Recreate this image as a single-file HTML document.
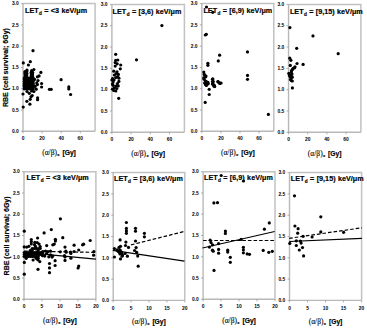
<!DOCTYPE html>
<html><head><meta charset="utf-8"><style>
html,body{margin:0;padding:0;background:#fff;}
svg{display:block;}
text{font-family:"Liberation Sans",sans-serif;font-weight:bold;fill:#000;stroke:#000;stroke-width:0.18px;}
.tk{font-size:4.9px;stroke-width:0;}
.ti{font-size:7.2px;word-spacing:0.3px;letter-spacing:0.03px;}
.tsub{font-size:4.7px;}
.xt{font-size:7px;}
.xs{font-family:"Liberation Serif",serif;font-weight:normal;font-size:7.8px;stroke:#000;stroke-width:0.1px;}
.xsub{font-size:4.0px;}
.yt{font-size:7px;}
circle{fill:#000;}
</style></head><body>
<svg width="367" height="328" viewBox="0 0 367 328">
<rect width="367" height="328" fill="#fff"/>
<path d="M23 3.6H95.1V131.3" stroke="#c2c2c2" stroke-width="1.5" fill="none"/>
<path d="M23 3.6V131.3H95.1" stroke="#b8b8b8" stroke-width="1.4" fill="none"/>
<path d="M21 131.3H23" stroke="#999" stroke-width="0.8"/>
<text x="18.7" y="133.05" class="tk" text-anchor="end">0.0</text>
<path d="M21 110.02H23" stroke="#999" stroke-width="0.8"/>
<text x="18.7" y="111.77" class="tk" text-anchor="end">0.5</text>
<path d="M21 88.73H23" stroke="#999" stroke-width="0.8"/>
<text x="18.7" y="90.48" class="tk" text-anchor="end">1.0</text>
<path d="M21 67.45H23" stroke="#999" stroke-width="0.8"/>
<text x="18.7" y="69.2" class="tk" text-anchor="end">1.5</text>
<path d="M21 46.17H23" stroke="#999" stroke-width="0.8"/>
<text x="18.7" y="47.92" class="tk" text-anchor="end">2.0</text>
<path d="M21 24.88H23" stroke="#999" stroke-width="0.8"/>
<text x="18.7" y="26.63" class="tk" text-anchor="end">2.5</text>
<path d="M21 3.6H23" stroke="#999" stroke-width="0.8"/>
<text x="18.7" y="5.35" class="tk" text-anchor="end">3.0</text>
<path d="M23 131.3V133.3" stroke="#999" stroke-width="0.8"/>
<text x="23" y="140.4" class="tk" text-anchor="middle">0</text>
<path d="M42.1 131.3V133.3" stroke="#999" stroke-width="0.8"/>
<text x="42.1" y="140.4" class="tk" text-anchor="middle">20</text>
<path d="M61.2 131.3V133.3" stroke="#999" stroke-width="0.8"/>
<text x="61.2" y="140.4" class="tk" text-anchor="middle">40</text>
<path d="M80.3 131.3V133.3" stroke="#999" stroke-width="0.8"/>
<text x="80.3" y="140.4" class="tk" text-anchor="middle">60</text>
<text x="42.15" y="154.8" class="xs" textLength="14.8" lengthAdjust="spacingAndGlyphs">(α/β)</text>
<text x="57.35" y="156.2" class="xsub">x</text>
<text x="62.45" y="154.8" class="xt" textLength="13.4" lengthAdjust="spacingAndGlyphs">[Gy]</text>
<text x="25" y="13.1" class="ti">LET<tspan class="tsub" dx="0.4" dy="2.0">d</tspan><tspan dy="-2.0"> = <3 keV/μm</tspan></text>
<circle cx="33" cy="50.7" r="1.6"/>
<circle cx="30.3" cy="61.7" r="1.6"/>
<circle cx="23.3" cy="62.9" r="1.6"/>
<circle cx="28.4" cy="65" r="1.6"/>
<circle cx="27" cy="70.1" r="1.6"/>
<circle cx="25.2" cy="72.4" r="1.6"/>
<circle cx="31.6" cy="70.7" r="1.6"/>
<circle cx="33.9" cy="69.5" r="1.6"/>
<circle cx="40.9" cy="72.4" r="1.6"/>
<circle cx="37.4" cy="76.8" r="1.6"/>
<circle cx="39.1" cy="75.9" r="1.6"/>
<circle cx="34.5" cy="79.4" r="1.6"/>
<circle cx="38" cy="80.5" r="1.6"/>
<circle cx="36.8" cy="82.9" r="1.6"/>
<circle cx="37.4" cy="84.6" r="1.6"/>
<circle cx="35.1" cy="86.3" r="1.6"/>
<circle cx="41.6" cy="83.5" r="1.6"/>
<circle cx="41.6" cy="87" r="1.6"/>
<circle cx="36.2" cy="89.2" r="1.6"/>
<circle cx="61.1" cy="79.7" r="1.6"/>
<circle cx="49.4" cy="89.3" r="1.6"/>
<circle cx="51.2" cy="89.3" r="1.6"/>
<circle cx="68.8" cy="86.9" r="1.6"/>
<circle cx="68.8" cy="89" r="1.6"/>
<circle cx="70.6" cy="94.5" r="1.6"/>
<circle cx="37.6" cy="97.8" r="1.6"/>
<circle cx="37.6" cy="99.7" r="1.6"/>
<circle cx="31" cy="96.8" r="1.6"/>
<circle cx="30.2" cy="99.3" r="1.6"/>
<circle cx="26.9" cy="101.3" r="1.6"/>
<circle cx="29.9" cy="104.2" r="1.6"/>
<circle cx="23.2" cy="107.1" r="1.6"/>
<circle cx="23" cy="94" r="1.6"/>
<circle cx="27" cy="91.5" r="1.6"/>
<circle cx="29.3" cy="93.3" r="1.6"/>
<circle cx="31.6" cy="91" r="1.6"/>
<circle cx="33.9" cy="91.5" r="1.6"/>
<circle cx="32.2" cy="95.6" r="1.6"/>
<circle cx="24.2" cy="78" r="1.6"/>
<circle cx="24.2" cy="79.8" r="1.6"/>
<circle cx="24.2" cy="81.6" r="1.6"/>
<circle cx="24.2" cy="83.4" r="1.6"/>
<circle cx="24.2" cy="85.2" r="1.6"/>
<circle cx="24.2" cy="87" r="1.6"/>
<circle cx="24.2" cy="88.8" r="1.6"/>
<circle cx="26" cy="78" r="1.6"/>
<circle cx="26" cy="79.8" r="1.6"/>
<circle cx="26" cy="81.6" r="1.6"/>
<circle cx="26" cy="83.4" r="1.6"/>
<circle cx="26" cy="85.2" r="1.6"/>
<circle cx="26" cy="87" r="1.6"/>
<circle cx="26" cy="88.8" r="1.6"/>
<circle cx="27.8" cy="78" r="1.6"/>
<circle cx="27.8" cy="79.8" r="1.6"/>
<circle cx="27.8" cy="81.6" r="1.6"/>
<circle cx="27.8" cy="83.4" r="1.6"/>
<circle cx="27.8" cy="85.2" r="1.6"/>
<circle cx="27.8" cy="87" r="1.6"/>
<circle cx="27.8" cy="88.8" r="1.6"/>
<circle cx="29.6" cy="78" r="1.6"/>
<circle cx="29.6" cy="79.8" r="1.6"/>
<circle cx="29.6" cy="81.6" r="1.6"/>
<circle cx="29.6" cy="83.4" r="1.6"/>
<circle cx="29.6" cy="85.2" r="1.6"/>
<circle cx="29.6" cy="87" r="1.6"/>
<circle cx="29.6" cy="88.8" r="1.6"/>
<circle cx="31.4" cy="78" r="1.6"/>
<circle cx="31.4" cy="79.8" r="1.6"/>
<circle cx="31.4" cy="81.6" r="1.6"/>
<circle cx="31.4" cy="83.4" r="1.6"/>
<circle cx="31.4" cy="85.2" r="1.6"/>
<circle cx="31.4" cy="87" r="1.6"/>
<circle cx="31.4" cy="88.8" r="1.6"/>
<circle cx="33.2" cy="78" r="1.6"/>
<circle cx="33.2" cy="79.8" r="1.6"/>
<circle cx="33.2" cy="81.6" r="1.6"/>
<circle cx="33.2" cy="83.4" r="1.6"/>
<circle cx="33.2" cy="85.2" r="1.6"/>
<circle cx="33.2" cy="87" r="1.6"/>
<circle cx="33.2" cy="88.8" r="1.6"/>
<circle cx="25" cy="71.5" r="1.6"/>
<circle cx="25" cy="73.3" r="1.6"/>
<circle cx="25" cy="75.1" r="1.6"/>
<circle cx="25" cy="76.9" r="1.6"/>
<circle cx="26.8" cy="71.5" r="1.6"/>
<circle cx="26.8" cy="73.3" r="1.6"/>
<circle cx="26.8" cy="75.1" r="1.6"/>
<circle cx="26.8" cy="76.9" r="1.6"/>
<circle cx="31.2" cy="72.3" r="1.6"/>
<circle cx="31.2" cy="74.1" r="1.6"/>
<circle cx="31.2" cy="75.9" r="1.6"/>
<circle cx="32.6" cy="72.3" r="1.6"/>
<circle cx="32.6" cy="74.1" r="1.6"/>
<circle cx="32.6" cy="75.9" r="1.6"/>
<path d="M111.9 4.4H184.4V132.3" stroke="#c2c2c2" stroke-width="1.5" fill="none"/>
<path d="M111.9 4.4V132.3H184.4" stroke="#b8b8b8" stroke-width="1.4" fill="none"/>
<path d="M109.9 132.3H111.9" stroke="#999" stroke-width="0.8"/>
<text x="107.6" y="134.05" class="tk" text-anchor="end">0.0</text>
<path d="M109.9 110.98H111.9" stroke="#999" stroke-width="0.8"/>
<text x="107.6" y="112.73" class="tk" text-anchor="end">0.5</text>
<path d="M109.9 89.67H111.9" stroke="#999" stroke-width="0.8"/>
<text x="107.6" y="91.42" class="tk" text-anchor="end">1.0</text>
<path d="M109.9 68.35H111.9" stroke="#999" stroke-width="0.8"/>
<text x="107.6" y="70.1" class="tk" text-anchor="end">1.5</text>
<path d="M109.9 47.03H111.9" stroke="#999" stroke-width="0.8"/>
<text x="107.6" y="48.78" class="tk" text-anchor="end">2.0</text>
<path d="M109.9 25.72H111.9" stroke="#999" stroke-width="0.8"/>
<text x="107.6" y="27.47" class="tk" text-anchor="end">2.5</text>
<path d="M109.9 4.4H111.9" stroke="#999" stroke-width="0.8"/>
<text x="107.6" y="6.15" class="tk" text-anchor="end">3.0</text>
<path d="M111.9 132.3V134.3" stroke="#999" stroke-width="0.8"/>
<text x="111.9" y="141.4" class="tk" text-anchor="middle">0</text>
<path d="M131.11 132.3V134.3" stroke="#999" stroke-width="0.8"/>
<text x="131.11" y="141.4" class="tk" text-anchor="middle">20</text>
<path d="M150.31 132.3V134.3" stroke="#999" stroke-width="0.8"/>
<text x="150.31" y="141.4" class="tk" text-anchor="middle">40</text>
<path d="M169.52 132.3V134.3" stroke="#999" stroke-width="0.8"/>
<text x="169.52" y="141.4" class="tk" text-anchor="middle">60</text>
<text x="131.25" y="155.8" class="xs" textLength="14.8" lengthAdjust="spacingAndGlyphs">(α/β)</text>
<text x="146.45" y="157.2" class="xsub">x</text>
<text x="151.55" y="155.8" class="xt" textLength="13.4" lengthAdjust="spacingAndGlyphs">[Gy]</text>
<text x="112.6" y="13.6" class="ti">LET<tspan class="tsub" dx="0.4" dy="2.0">d</tspan><tspan dy="-2.0"> = [3,6) keV/μm</tspan></text>
<circle cx="161.9" cy="25.6" r="1.6"/>
<circle cx="136.5" cy="59.8" r="1.6"/>
<circle cx="115.7" cy="54.3" r="1.6"/>
<circle cx="115.7" cy="60.3" r="1.6"/>
<circle cx="117.8" cy="60" r="1.6"/>
<circle cx="115.2" cy="62.6" r="1.6"/>
<circle cx="117.2" cy="63.8" r="1.6"/>
<circle cx="115.2" cy="66.1" r="1.6"/>
<circle cx="120.7" cy="65" r="1.6"/>
<circle cx="120.3" cy="68.8" r="1.6"/>
<circle cx="113.8" cy="71.2" r="1.6"/>
<circle cx="117" cy="71.8" r="1.6"/>
<circle cx="118.4" cy="74.4" r="1.6"/>
<circle cx="114.4" cy="75" r="1.6"/>
<circle cx="116.3" cy="73.5" r="1.6"/>
<circle cx="115.7" cy="77.6" r="1.6"/>
<circle cx="112.6" cy="78.5" r="1.6"/>
<circle cx="111.9" cy="80" r="1.6"/>
<circle cx="118.9" cy="78.2" r="1.6"/>
<circle cx="118.9" cy="81.4" r="1.6"/>
<circle cx="113.1" cy="82.1" r="1.6"/>
<circle cx="117.4" cy="83.6" r="1.6"/>
<circle cx="113.1" cy="85.3" r="1.6"/>
<circle cx="118.2" cy="85.9" r="1.6"/>
<circle cx="114.4" cy="87.9" r="1.6"/>
<circle cx="112.5" cy="89.1" r="1.6"/>
<circle cx="116.8" cy="88.5" r="1.6"/>
<circle cx="113.8" cy="90.5" r="1.6"/>
<circle cx="115.8" cy="91" r="1.6"/>
<circle cx="114" cy="80" r="1.6"/>
<circle cx="117.5" cy="76.5" r="1.6"/>
<circle cx="112.4" cy="84" r="1.6"/>
<circle cx="116" cy="86" r="1.6"/>
<circle cx="118.7" cy="98.3" r="1.6"/>
<path d="M201.85 3.6H273.8V131.3" stroke="#c2c2c2" stroke-width="1.5" fill="none"/>
<path d="M201.85 3.6V131.3H273.8" stroke="#b8b8b8" stroke-width="1.4" fill="none"/>
<path d="M199.85 131.3H201.85" stroke="#999" stroke-width="0.8"/>
<text x="197.55" y="133.05" class="tk" text-anchor="end">0.0</text>
<path d="M199.85 110.02H201.85" stroke="#999" stroke-width="0.8"/>
<text x="197.55" y="111.77" class="tk" text-anchor="end">0.5</text>
<path d="M199.85 88.73H201.85" stroke="#999" stroke-width="0.8"/>
<text x="197.55" y="90.48" class="tk" text-anchor="end">1.0</text>
<path d="M199.85 67.45H201.85" stroke="#999" stroke-width="0.8"/>
<text x="197.55" y="69.2" class="tk" text-anchor="end">1.5</text>
<path d="M199.85 46.17H201.85" stroke="#999" stroke-width="0.8"/>
<text x="197.55" y="47.92" class="tk" text-anchor="end">2.0</text>
<path d="M199.85 24.88H201.85" stroke="#999" stroke-width="0.8"/>
<text x="197.55" y="26.63" class="tk" text-anchor="end">2.5</text>
<path d="M199.85 3.6H201.85" stroke="#999" stroke-width="0.8"/>
<text x="197.55" y="5.35" class="tk" text-anchor="end">3.0</text>
<path d="M201.85 131.3V133.3" stroke="#999" stroke-width="0.8"/>
<text x="201.85" y="140.4" class="tk" text-anchor="middle">0</text>
<path d="M220.91 131.3V133.3" stroke="#999" stroke-width="0.8"/>
<text x="220.91" y="140.4" class="tk" text-anchor="middle">20</text>
<path d="M239.97 131.3V133.3" stroke="#999" stroke-width="0.8"/>
<text x="239.97" y="140.4" class="tk" text-anchor="middle">40</text>
<path d="M259.03 131.3V133.3" stroke="#999" stroke-width="0.8"/>
<text x="259.03" y="140.4" class="tk" text-anchor="middle">60</text>
<text x="220.92" y="154.8" class="xs" textLength="14.8" lengthAdjust="spacingAndGlyphs">(α/β)</text>
<text x="236.12" y="156.2" class="xsub">x</text>
<text x="241.22" y="154.8" class="xt" textLength="13.4" lengthAdjust="spacingAndGlyphs">[Gy]</text>
<text x="203.4" y="13.1" class="ti">LET<tspan class="tsub" dx="0.4" dy="2.0">d</tspan><tspan dy="-2.0"> = [6,9) keV/μm</tspan></text>
<circle cx="206.5" cy="7" r="1.6"/>
<circle cx="212.8" cy="12.3" r="1.6"/>
<circle cx="205.3" cy="35" r="1.6"/>
<circle cx="206.3" cy="34.3" r="1.6"/>
<circle cx="219.6" cy="55.2" r="1.6"/>
<circle cx="218.3" cy="60.9" r="1.6"/>
<circle cx="207.9" cy="63.3" r="1.6"/>
<circle cx="207.9" cy="65.3" r="1.6"/>
<circle cx="247.5" cy="51.9" r="1.6"/>
<circle cx="203.8" cy="72.1" r="1.6"/>
<circle cx="204.9" cy="75.5" r="1.6"/>
<circle cx="205.6" cy="77" r="1.6"/>
<circle cx="204.1" cy="79.3" r="1.6"/>
<circle cx="206.4" cy="81.6" r="1.6"/>
<circle cx="207.9" cy="82.3" r="1.6"/>
<circle cx="205.6" cy="84.6" r="1.6"/>
<circle cx="206.4" cy="85.4" r="1.6"/>
<circle cx="212.5" cy="79.3" r="1.6"/>
<circle cx="212.5" cy="81.6" r="1.6"/>
<circle cx="213.2" cy="84.6" r="1.6"/>
<circle cx="214" cy="86.2" r="1.6"/>
<circle cx="218.1" cy="81.9" r="1.6"/>
<circle cx="220.1" cy="83.1" r="1.6"/>
<circle cx="209.2" cy="89.3" r="1.6"/>
<circle cx="209.2" cy="94.5" r="1.6"/>
<circle cx="205.2" cy="102.4" r="1.6"/>
<circle cx="268.4" cy="114.4" r="1.6"/>
<circle cx="247.5" cy="75.4" r="1.6"/>
<circle cx="247.5" cy="79.3" r="1.6"/>
<circle cx="204.2" cy="74.2" r="1.6"/>
<circle cx="206" cy="76.1" r="1.6"/>
<circle cx="203.7" cy="77.9" r="1.6"/>
<circle cx="205.5" cy="81.1" r="1.6"/>
<circle cx="207.3" cy="82.5" r="1.6"/>
<circle cx="204.6" cy="83" r="1.6"/>
<circle cx="206" cy="84.8" r="1.6"/>
<circle cx="208.2" cy="83.8" r="1.6"/>
<circle cx="212.8" cy="78.8" r="1.6"/>
<circle cx="213.3" cy="81.6" r="1.6"/>
<circle cx="212.4" cy="83.9" r="1.6"/>
<circle cx="214.2" cy="85.2" r="1.6"/>
<circle cx="214.7" cy="86.6" r="1.6"/>
<circle cx="217.9" cy="81.6" r="1.6"/>
<circle cx="219.7" cy="83.4" r="1.6"/>
<circle cx="221.1" cy="83" r="1.6"/>
<path d="M288.55 4.4H360.9V132.3" stroke="#c2c2c2" stroke-width="1.5" fill="none"/>
<path d="M288.55 4.4V132.3H360.9" stroke="#b8b8b8" stroke-width="1.4" fill="none"/>
<path d="M286.55 132.3H288.55" stroke="#999" stroke-width="0.8"/>
<text x="284.25" y="134.05" class="tk" text-anchor="end">0.0</text>
<path d="M286.55 110.98H288.55" stroke="#999" stroke-width="0.8"/>
<text x="284.25" y="112.73" class="tk" text-anchor="end">0.5</text>
<path d="M286.55 89.67H288.55" stroke="#999" stroke-width="0.8"/>
<text x="284.25" y="91.42" class="tk" text-anchor="end">1.0</text>
<path d="M286.55 68.35H288.55" stroke="#999" stroke-width="0.8"/>
<text x="284.25" y="70.1" class="tk" text-anchor="end">1.5</text>
<path d="M286.55 47.03H288.55" stroke="#999" stroke-width="0.8"/>
<text x="284.25" y="48.78" class="tk" text-anchor="end">2.0</text>
<path d="M286.55 25.72H288.55" stroke="#999" stroke-width="0.8"/>
<text x="284.25" y="27.47" class="tk" text-anchor="end">2.5</text>
<path d="M286.55 4.4H288.55" stroke="#999" stroke-width="0.8"/>
<text x="284.25" y="6.15" class="tk" text-anchor="end">3.0</text>
<path d="M288.55 132.3V134.3" stroke="#999" stroke-width="0.8"/>
<text x="288.55" y="141.4" class="tk" text-anchor="middle">0</text>
<path d="M307.72 132.3V134.3" stroke="#999" stroke-width="0.8"/>
<text x="307.72" y="141.4" class="tk" text-anchor="middle">20</text>
<path d="M326.88 132.3V134.3" stroke="#999" stroke-width="0.8"/>
<text x="326.88" y="141.4" class="tk" text-anchor="middle">40</text>
<path d="M346.05 132.3V134.3" stroke="#999" stroke-width="0.8"/>
<text x="346.05" y="141.4" class="tk" text-anchor="middle">60</text>
<text x="307.83" y="155.8" class="xs" textLength="14.8" lengthAdjust="spacingAndGlyphs">(α/β)</text>
<text x="323.03" y="157.2" class="xsub">x</text>
<text x="328.12" y="155.8" class="xt" textLength="13.4" lengthAdjust="spacingAndGlyphs">[Gy]</text>
<text x="289.9" y="13.6" class="ti">LET<tspan class="tsub" dx="0.4" dy="2.0">d</tspan><tspan dy="-2.0"> = [9,15) keV/μm</tspan></text>
<circle cx="289.9" cy="27.6" r="1.6"/>
<circle cx="313" cy="35.9" r="1.6"/>
<circle cx="296.7" cy="48.3" r="1.6"/>
<circle cx="338.2" cy="53.7" r="1.6"/>
<circle cx="289.8" cy="58.2" r="1.6"/>
<circle cx="290.9" cy="60.3" r="1.6"/>
<circle cx="297" cy="63.5" r="1.6"/>
<circle cx="303.1" cy="64.4" r="1.6"/>
<circle cx="290.3" cy="65.4" r="1.6"/>
<circle cx="294.6" cy="67.8" r="1.6"/>
<circle cx="292.5" cy="69.4" r="1.6"/>
<circle cx="291.4" cy="72.1" r="1.6"/>
<circle cx="289.3" cy="74.7" r="1.6"/>
<circle cx="290.9" cy="75.3" r="1.6"/>
<circle cx="290.9" cy="77.9" r="1.6"/>
<circle cx="291.4" cy="80.6" r="1.6"/>
<circle cx="292.4" cy="87.9" r="1.6"/>
<circle cx="293.2" cy="68.3" r="1.6"/>
<circle cx="295" cy="66.8" r="1.6"/>
<circle cx="291.5" cy="70.5" r="1.6"/>
<circle cx="288.9" cy="73.3" r="1.6"/>
<circle cx="292" cy="74" r="1.6"/>
<circle cx="289.8" cy="76.3" r="1.6"/>
<circle cx="292.3" cy="77.2" r="1.6"/>
<circle cx="290.5" cy="79.6" r="1.6"/>
<circle cx="292.3" cy="81" r="1.6"/>
<path d="M24 171.7H95.9V299.3" stroke="#c2c2c2" stroke-width="1.5" fill="none"/>
<path d="M24 171.7V299.3H95.9" stroke="#b8b8b8" stroke-width="1.4" fill="none"/>
<path d="M22 299.3H24" stroke="#999" stroke-width="0.8"/>
<text x="19.7" y="301.05" class="tk" text-anchor="end">0.0</text>
<path d="M22 278.03H24" stroke="#999" stroke-width="0.8"/>
<text x="19.7" y="279.78" class="tk" text-anchor="end">0.5</text>
<path d="M22 256.77H24" stroke="#999" stroke-width="0.8"/>
<text x="19.7" y="258.52" class="tk" text-anchor="end">1.0</text>
<path d="M22 235.5H24" stroke="#999" stroke-width="0.8"/>
<text x="19.7" y="237.25" class="tk" text-anchor="end">1.5</text>
<path d="M22 214.23H24" stroke="#999" stroke-width="0.8"/>
<text x="19.7" y="215.98" class="tk" text-anchor="end">2.0</text>
<path d="M22 192.97H24" stroke="#999" stroke-width="0.8"/>
<text x="19.7" y="194.72" class="tk" text-anchor="end">2.5</text>
<path d="M22 171.7H24" stroke="#999" stroke-width="0.8"/>
<text x="19.7" y="173.45" class="tk" text-anchor="end">3.0</text>
<path d="M24 299.3V301.3" stroke="#999" stroke-width="0.8"/>
<text x="24" y="308.4" class="tk" text-anchor="middle">0</text>
<path d="M41.98 299.3V301.3" stroke="#999" stroke-width="0.8"/>
<text x="41.98" y="308.4" class="tk" text-anchor="middle">5</text>
<path d="M59.95 299.3V301.3" stroke="#999" stroke-width="0.8"/>
<text x="59.95" y="308.4" class="tk" text-anchor="middle">10</text>
<path d="M77.93 299.3V301.3" stroke="#999" stroke-width="0.8"/>
<text x="77.93" y="308.4" class="tk" text-anchor="middle">15</text>
<path d="M95.9 299.3V301.3" stroke="#999" stroke-width="0.8"/>
<text x="95.9" y="308.4" class="tk" text-anchor="middle">20</text>
<text x="43.05" y="322.8" class="xs" textLength="14.8" lengthAdjust="spacingAndGlyphs">(α/β)</text>
<text x="58.25" y="324.2" class="xsub">x</text>
<text x="63.35" y="322.8" class="xt" textLength="13.4" lengthAdjust="spacingAndGlyphs">[Gy]</text>
<text x="26.6" y="180.3" class="ti">LET<tspan class="tsub" dx="0.4" dy="2.0">d</tspan><tspan dy="-2.0"> = <3 keV/μm</tspan></text>
<line x1="24" y1="251" x2="95.9" y2="252.4" stroke="#000" stroke-width="1.2" stroke-dasharray="3.6 2"/>
<line x1="24" y1="252.3" x2="95.9" y2="259.2" stroke="#000" stroke-width="1.2"/>
<circle cx="60.4" cy="218.8" r="1.6"/>
<circle cx="51.3" cy="229.6" r="1.6"/>
<circle cx="44.1" cy="232.9" r="1.6"/>
<circle cx="24.3" cy="231.2" r="1.6"/>
<circle cx="37.6" cy="238" r="1.6"/>
<circle cx="31.3" cy="239.6" r="1.6"/>
<circle cx="31.3" cy="241.8" r="1.6"/>
<circle cx="31.3" cy="244" r="1.6"/>
<circle cx="34.8" cy="242.4" r="1.6"/>
<circle cx="37.2" cy="242.6" r="1.6"/>
<circle cx="39.1" cy="244.1" r="1.6"/>
<circle cx="40.2" cy="246.5" r="1.6"/>
<circle cx="24.2" cy="246.9" r="1.6"/>
<circle cx="26.7" cy="247.1" r="1.6"/>
<circle cx="28.8" cy="246.3" r="1.6"/>
<circle cx="34.5" cy="244.8" r="1.6"/>
<circle cx="35.5" cy="246.4" r="1.6"/>
<circle cx="46.7" cy="245.6" r="1.6"/>
<circle cx="52.8" cy="244.8" r="1.6"/>
<circle cx="54.3" cy="244.1" r="1.6"/>
<circle cx="55.4" cy="239.3" r="1.6"/>
<circle cx="55.4" cy="241.1" r="1.6"/>
<circle cx="62.8" cy="237.7" r="1.6"/>
<circle cx="65" cy="247.1" r="1.6"/>
<circle cx="90.2" cy="240.5" r="1.6"/>
<circle cx="74.1" cy="245.2" r="1.6"/>
<circle cx="82.6" cy="244.8" r="1.6"/>
<circle cx="83.6" cy="244.2" r="1.6"/>
<circle cx="43" cy="251.5" r="1.6"/>
<circle cx="45.5" cy="251" r="1.6"/>
<circle cx="48" cy="251.5" r="1.6"/>
<circle cx="50.5" cy="251.2" r="1.6"/>
<circle cx="46.7" cy="253.4" r="1.6"/>
<circle cx="50.5" cy="254.8" r="1.6"/>
<circle cx="52" cy="257.1" r="1.6"/>
<circle cx="44.7" cy="256.1" r="1.6"/>
<circle cx="48.8" cy="256.8" r="1.6"/>
<circle cx="52.8" cy="256" r="1.6"/>
<circle cx="42.5" cy="255.7" r="1.6"/>
<circle cx="42.3" cy="253.2" r="1.6"/>
<circle cx="39.8" cy="261.6" r="1.6"/>
<circle cx="38" cy="269.3" r="1.6"/>
<circle cx="24.3" cy="262.4" r="1.6"/>
<circle cx="24.3" cy="274.2" r="1.6"/>
<circle cx="33.1" cy="260" r="1.6"/>
<circle cx="37.8" cy="259.8" r="1.6"/>
<circle cx="55.1" cy="260.7" r="1.6"/>
<circle cx="55.1" cy="265.5" r="1.6"/>
<circle cx="49.5" cy="263.5" r="1.6"/>
<circle cx="49.5" cy="267.9" r="1.6"/>
<circle cx="49.5" cy="272.7" r="1.6"/>
<circle cx="60.3" cy="251.8" r="1.6"/>
<circle cx="65.8" cy="251" r="1.6"/>
<circle cx="66.2" cy="252.2" r="1.6"/>
<circle cx="70.5" cy="252.2" r="1.6"/>
<circle cx="70.9" cy="253.5" r="1.6"/>
<circle cx="64.5" cy="255.7" r="1.6"/>
<circle cx="65" cy="257" r="1.6"/>
<circle cx="70.9" cy="258.2" r="1.6"/>
<circle cx="65" cy="260.4" r="1.6"/>
<circle cx="74.1" cy="251.5" r="1.6"/>
<circle cx="78.7" cy="250" r="1.6"/>
<circle cx="93.9" cy="251.5" r="1.6"/>
<circle cx="93.6" cy="255.2" r="1.6"/>
<circle cx="78.7" cy="266.1" r="1.6"/>
<circle cx="78.1" cy="268" r="1.6"/>
<circle cx="24.2" cy="252.5" r="1.6"/>
<circle cx="24.2" cy="254.5" r="1.6"/>
<circle cx="24.2" cy="256.5" r="1.6"/>
<circle cx="26.2" cy="252.5" r="1.6"/>
<circle cx="26.2" cy="254.5" r="1.6"/>
<circle cx="26.2" cy="256.5" r="1.6"/>
<circle cx="26.2" cy="258.3" r="1.6"/>
<circle cx="28.2" cy="252.5" r="1.6"/>
<circle cx="28.2" cy="254.5" r="1.6"/>
<circle cx="28.2" cy="256.5" r="1.6"/>
<circle cx="30.2" cy="250.5" r="1.6"/>
<circle cx="30.2" cy="252.5" r="1.6"/>
<circle cx="30.2" cy="254.5" r="1.6"/>
<circle cx="30.2" cy="256.5" r="1.6"/>
<circle cx="32.2" cy="248.5" r="1.6"/>
<circle cx="32.2" cy="250.5" r="1.6"/>
<circle cx="32.2" cy="252.5" r="1.6"/>
<circle cx="32.2" cy="254.5" r="1.6"/>
<circle cx="32.2" cy="256.5" r="1.6"/>
<circle cx="34.2" cy="248.5" r="1.6"/>
<circle cx="34.2" cy="252.5" r="1.6"/>
<circle cx="34.2" cy="254.5" r="1.6"/>
<circle cx="34.2" cy="256.5" r="1.6"/>
<circle cx="36.2" cy="248.5" r="1.6"/>
<circle cx="36.2" cy="252.5" r="1.6"/>
<circle cx="36.2" cy="254.5" r="1.6"/>
<circle cx="36.2" cy="256.5" r="1.6"/>
<circle cx="36.2" cy="258.3" r="1.6"/>
<circle cx="38.2" cy="248.5" r="1.6"/>
<circle cx="38.2" cy="250.5" r="1.6"/>
<circle cx="38.2" cy="252.5" r="1.6"/>
<circle cx="38.2" cy="254.5" r="1.6"/>
<circle cx="38.2" cy="256.5" r="1.6"/>
<circle cx="38.2" cy="258.3" r="1.6"/>
<circle cx="40.2" cy="248.5" r="1.6"/>
<circle cx="40.2" cy="252.5" r="1.6"/>
<circle cx="40.2" cy="254.5" r="1.6"/>
<path d="M113.2 172.6H184.8V300.4" stroke="#c2c2c2" stroke-width="1.5" fill="none"/>
<path d="M113.2 172.6V300.4H184.8" stroke="#b8b8b8" stroke-width="1.4" fill="none"/>
<path d="M111.2 300.4H113.2" stroke="#999" stroke-width="0.8"/>
<text x="108.9" y="302.15" class="tk" text-anchor="end">0.0</text>
<path d="M111.2 279.1H113.2" stroke="#999" stroke-width="0.8"/>
<text x="108.9" y="280.85" class="tk" text-anchor="end">0.5</text>
<path d="M111.2 257.8H113.2" stroke="#999" stroke-width="0.8"/>
<text x="108.9" y="259.55" class="tk" text-anchor="end">1.0</text>
<path d="M111.2 236.5H113.2" stroke="#999" stroke-width="0.8"/>
<text x="108.9" y="238.25" class="tk" text-anchor="end">1.5</text>
<path d="M111.2 215.2H113.2" stroke="#999" stroke-width="0.8"/>
<text x="108.9" y="216.95" class="tk" text-anchor="end">2.0</text>
<path d="M111.2 193.9H113.2" stroke="#999" stroke-width="0.8"/>
<text x="108.9" y="195.65" class="tk" text-anchor="end">2.5</text>
<path d="M111.2 172.6H113.2" stroke="#999" stroke-width="0.8"/>
<text x="108.9" y="174.35" class="tk" text-anchor="end">3.0</text>
<path d="M113.2 300.4V302.4" stroke="#999" stroke-width="0.8"/>
<text x="113.2" y="309.5" class="tk" text-anchor="middle">0</text>
<path d="M131.1 300.4V302.4" stroke="#999" stroke-width="0.8"/>
<text x="131.1" y="309.5" class="tk" text-anchor="middle">5</text>
<path d="M149 300.4V302.4" stroke="#999" stroke-width="0.8"/>
<text x="149" y="309.5" class="tk" text-anchor="middle">10</text>
<path d="M166.9 300.4V302.4" stroke="#999" stroke-width="0.8"/>
<text x="166.9" y="309.5" class="tk" text-anchor="middle">15</text>
<path d="M184.8 300.4V302.4" stroke="#999" stroke-width="0.8"/>
<text x="184.8" y="309.5" class="tk" text-anchor="middle">20</text>
<text x="132.1" y="323.9" class="xs" textLength="14.8" lengthAdjust="spacingAndGlyphs">(α/β)</text>
<text x="147.3" y="325.3" class="xsub">x</text>
<text x="152.4" y="323.9" class="xt" textLength="13.4" lengthAdjust="spacingAndGlyphs">[Gy]</text>
<text x="114" y="180.6" class="ti">LET<tspan class="tsub" dx="0.4" dy="2.0">d</tspan><tspan dy="-2.0"> = [3,6) keV/μm</tspan></text>
<line x1="131" y1="244.9" x2="184.5" y2="231.4" stroke="#000" stroke-width="1.2" stroke-dasharray="3.6 2"/>
<line x1="112.8" y1="250.3" x2="184.5" y2="261.2" stroke="#000" stroke-width="1.2"/>
<circle cx="126.4" cy="222.5" r="1.6"/>
<circle cx="126.4" cy="228.4" r="1.6"/>
<circle cx="126.4" cy="230.9" r="1.6"/>
<circle cx="126.4" cy="233.3" r="1.6"/>
<circle cx="135.5" cy="228.3" r="1.6"/>
<circle cx="135.5" cy="231.2" r="1.6"/>
<circle cx="144.4" cy="233.3" r="1.6"/>
<circle cx="144.4" cy="236.8" r="1.6"/>
<circle cx="120.1" cy="239.9" r="1.6"/>
<circle cx="125.9" cy="242.1" r="1.6"/>
<circle cx="135.5" cy="241" r="1.6"/>
<circle cx="125.5" cy="245.5" r="1.6"/>
<circle cx="128.5" cy="247.4" r="1.6"/>
<circle cx="120.5" cy="246.3" r="1.6"/>
<circle cx="119" cy="247.4" r="1.6"/>
<circle cx="114.4" cy="248.6" r="1.6"/>
<circle cx="136.1" cy="247.6" r="1.6"/>
<circle cx="117.9" cy="250.9" r="1.6"/>
<circle cx="119.4" cy="252.4" r="1.6"/>
<circle cx="121.7" cy="253.5" r="1.6"/>
<circle cx="125.1" cy="253.5" r="1.6"/>
<circle cx="127.4" cy="256.2" r="1.6"/>
<circle cx="122.1" cy="256.2" r="1.6"/>
<circle cx="114.4" cy="257" r="1.6"/>
<circle cx="120.5" cy="258.9" r="1.6"/>
<circle cx="134.6" cy="250.5" r="1.6"/>
<circle cx="136.7" cy="252.4" r="1.6"/>
<circle cx="137.7" cy="256.1" r="1.6"/>
<circle cx="138.2" cy="266.2" r="1.6"/>
<circle cx="118.5" cy="251.3" r="1.6"/>
<circle cx="120.2" cy="250" r="1.6"/>
<circle cx="121.6" cy="252" r="1.6"/>
<circle cx="120" cy="254" r="1.6"/>
<circle cx="122.5" cy="255" r="1.6"/>
<circle cx="117" cy="249.8" r="1.6"/>
<path d="M203.1 171.7H275V299.3" stroke="#c2c2c2" stroke-width="1.5" fill="none"/>
<path d="M203.1 171.7V299.3H275" stroke="#b8b8b8" stroke-width="1.4" fill="none"/>
<path d="M201.1 299.3H203.1" stroke="#999" stroke-width="0.8"/>
<text x="198.8" y="301.05" class="tk" text-anchor="end">0.0</text>
<path d="M201.1 278.03H203.1" stroke="#999" stroke-width="0.8"/>
<text x="198.8" y="279.78" class="tk" text-anchor="end">0.5</text>
<path d="M201.1 256.77H203.1" stroke="#999" stroke-width="0.8"/>
<text x="198.8" y="258.52" class="tk" text-anchor="end">1.0</text>
<path d="M201.1 235.5H203.1" stroke="#999" stroke-width="0.8"/>
<text x="198.8" y="237.25" class="tk" text-anchor="end">1.5</text>
<path d="M201.1 214.23H203.1" stroke="#999" stroke-width="0.8"/>
<text x="198.8" y="215.98" class="tk" text-anchor="end">2.0</text>
<path d="M201.1 192.97H203.1" stroke="#999" stroke-width="0.8"/>
<text x="198.8" y="194.72" class="tk" text-anchor="end">2.5</text>
<path d="M201.1 171.7H203.1" stroke="#999" stroke-width="0.8"/>
<text x="198.8" y="173.45" class="tk" text-anchor="end">3.0</text>
<path d="M203.1 299.3V301.3" stroke="#999" stroke-width="0.8"/>
<text x="203.1" y="308.4" class="tk" text-anchor="middle">0</text>
<path d="M221.07 299.3V301.3" stroke="#999" stroke-width="0.8"/>
<text x="221.07" y="308.4" class="tk" text-anchor="middle">5</text>
<path d="M239.05 299.3V301.3" stroke="#999" stroke-width="0.8"/>
<text x="239.05" y="308.4" class="tk" text-anchor="middle">10</text>
<path d="M257.02 299.3V301.3" stroke="#999" stroke-width="0.8"/>
<text x="257.02" y="308.4" class="tk" text-anchor="middle">15</text>
<path d="M275 299.3V301.3" stroke="#999" stroke-width="0.8"/>
<text x="275" y="308.4" class="tk" text-anchor="middle">20</text>
<text x="222.15" y="322.8" class="xs" textLength="14.8" lengthAdjust="spacingAndGlyphs">(α/β)</text>
<text x="237.35" y="324.2" class="xsub">x</text>
<text x="242.45" y="322.8" class="xt" textLength="13.4" lengthAdjust="spacingAndGlyphs">[Gy]</text>
<text x="204" y="180.3" class="ti">LET<tspan class="tsub" dx="0.4" dy="2.0">d</tspan><tspan dy="-2.0"> = [6,9) keV/μm</tspan></text>
<line x1="203.1" y1="240.5" x2="275" y2="240.5" stroke="#000" stroke-width="1.2" stroke-dasharray="3.6 2"/>
<line x1="202.5" y1="248" x2="274.7" y2="231.5" stroke="#000" stroke-width="1.2"/>
<circle cx="221.2" cy="175.5" r="1.6"/>
<circle cx="243.5" cy="181" r="1.6"/>
<circle cx="213.9" cy="202.9" r="1.6"/>
<circle cx="217.5" cy="202.7" r="1.6"/>
<circle cx="225.4" cy="231.1" r="1.6"/>
<circle cx="225.4" cy="233.4" r="1.6"/>
<circle cx="210.2" cy="240.2" r="1.6"/>
<circle cx="211" cy="242.5" r="1.6"/>
<circle cx="212.5" cy="244.8" r="1.6"/>
<circle cx="218.6" cy="243.6" r="1.6"/>
<circle cx="209.4" cy="247.1" r="1.6"/>
<circle cx="212.5" cy="250.2" r="1.6"/>
<circle cx="213.2" cy="251.2" r="1.6"/>
<circle cx="218.6" cy="249.4" r="1.6"/>
<circle cx="218.6" cy="253.2" r="1.6"/>
<circle cx="227.7" cy="250.2" r="1.6"/>
<circle cx="227.7" cy="252.1" r="1.6"/>
<circle cx="230.3" cy="257.3" r="1.6"/>
<circle cx="230.3" cy="262.3" r="1.6"/>
<circle cx="214" cy="270.4" r="1.6"/>
<circle cx="243.4" cy="247.3" r="1.6"/>
<circle cx="243.4" cy="249.8" r="1.6"/>
<circle cx="243.4" cy="252.8" r="1.6"/>
<circle cx="247.2" cy="253.9" r="1.6"/>
<circle cx="249.5" cy="254.3" r="1.6"/>
<circle cx="269.3" cy="222.9" r="1.6"/>
<circle cx="264.4" cy="229.2" r="1.6"/>
<circle cx="241.1" cy="239.4" r="1.6"/>
<circle cx="263.2" cy="250.4" r="1.6"/>
<circle cx="268.8" cy="252.3" r="1.6"/>
<circle cx="272.3" cy="251.3" r="1.6"/>
<path d="M289.5 172.6H361.6V300.4" stroke="#c2c2c2" stroke-width="1.5" fill="none"/>
<path d="M289.5 172.6V300.4H361.6" stroke="#b8b8b8" stroke-width="1.4" fill="none"/>
<path d="M287.5 300.4H289.5" stroke="#999" stroke-width="0.8"/>
<text x="285.2" y="302.15" class="tk" text-anchor="end">0.0</text>
<path d="M287.5 279.1H289.5" stroke="#999" stroke-width="0.8"/>
<text x="285.2" y="280.85" class="tk" text-anchor="end">0.5</text>
<path d="M287.5 257.8H289.5" stroke="#999" stroke-width="0.8"/>
<text x="285.2" y="259.55" class="tk" text-anchor="end">1.0</text>
<path d="M287.5 236.5H289.5" stroke="#999" stroke-width="0.8"/>
<text x="285.2" y="238.25" class="tk" text-anchor="end">1.5</text>
<path d="M287.5 215.2H289.5" stroke="#999" stroke-width="0.8"/>
<text x="285.2" y="216.95" class="tk" text-anchor="end">2.0</text>
<path d="M287.5 193.9H289.5" stroke="#999" stroke-width="0.8"/>
<text x="285.2" y="195.65" class="tk" text-anchor="end">2.5</text>
<path d="M287.5 172.6H289.5" stroke="#999" stroke-width="0.8"/>
<text x="285.2" y="174.35" class="tk" text-anchor="end">3.0</text>
<path d="M289.5 300.4V302.4" stroke="#999" stroke-width="0.8"/>
<text x="289.5" y="309.5" class="tk" text-anchor="middle">0</text>
<path d="M307.52 300.4V302.4" stroke="#999" stroke-width="0.8"/>
<text x="307.52" y="309.5" class="tk" text-anchor="middle">5</text>
<path d="M325.55 300.4V302.4" stroke="#999" stroke-width="0.8"/>
<text x="325.55" y="309.5" class="tk" text-anchor="middle">10</text>
<path d="M343.58 300.4V302.4" stroke="#999" stroke-width="0.8"/>
<text x="343.58" y="309.5" class="tk" text-anchor="middle">15</text>
<path d="M361.6 300.4V302.4" stroke="#999" stroke-width="0.8"/>
<text x="361.6" y="309.5" class="tk" text-anchor="middle">20</text>
<text x="308.65" y="323.9" class="xs" textLength="14.8" lengthAdjust="spacingAndGlyphs">(α/β)</text>
<text x="323.85" y="325.3" class="xsub">x</text>
<text x="328.95" y="323.9" class="xt" textLength="13.4" lengthAdjust="spacingAndGlyphs">[Gy]</text>
<text x="290.8" y="180.6" class="ti">LET<tspan class="tsub" dx="0.4" dy="2.0">d</tspan><tspan dy="-2.0"> = [9,15) keV/μm</tspan></text>
<line x1="289.2" y1="238.3" x2="361.9" y2="227.8" stroke="#000" stroke-width="1.2" stroke-dasharray="3.6 2"/>
<line x1="289.2" y1="241.5" x2="361.9" y2="238.4" stroke="#000" stroke-width="1.2"/>
<circle cx="294.5" cy="195.8" r="1.6"/>
<circle cx="320.8" cy="216.8" r="1.6"/>
<circle cx="294.9" cy="226" r="1.6"/>
<circle cx="298.1" cy="228.7" r="1.6"/>
<circle cx="297.7" cy="233.2" r="1.6"/>
<circle cx="320.8" cy="231.9" r="1.6"/>
<circle cx="303.1" cy="236.3" r="1.6"/>
<circle cx="312.1" cy="237" r="1.6"/>
<circle cx="296.3" cy="240.8" r="1.6"/>
<circle cx="300.4" cy="241.1" r="1.6"/>
<circle cx="301.1" cy="243.1" r="1.6"/>
<circle cx="289.8" cy="243.4" r="1.6"/>
<circle cx="296.3" cy="245.5" r="1.6"/>
<circle cx="302.5" cy="247.6" r="1.6"/>
<circle cx="299.3" cy="250" r="1.6"/>
<circle cx="303.6" cy="255.9" r="1.6"/>
<circle cx="343.6" cy="232.3" r="1.6"/>
<text transform="translate(7.6 67.6) rotate(-90)" class="yt" text-anchor="middle">RBE (cell survival; 6Gy)</text>
<text transform="translate(8.8 235.9) rotate(-90)" class="yt" text-anchor="middle">RBE (cell survival; 6Gy)</text>
</svg>
</body></html>
